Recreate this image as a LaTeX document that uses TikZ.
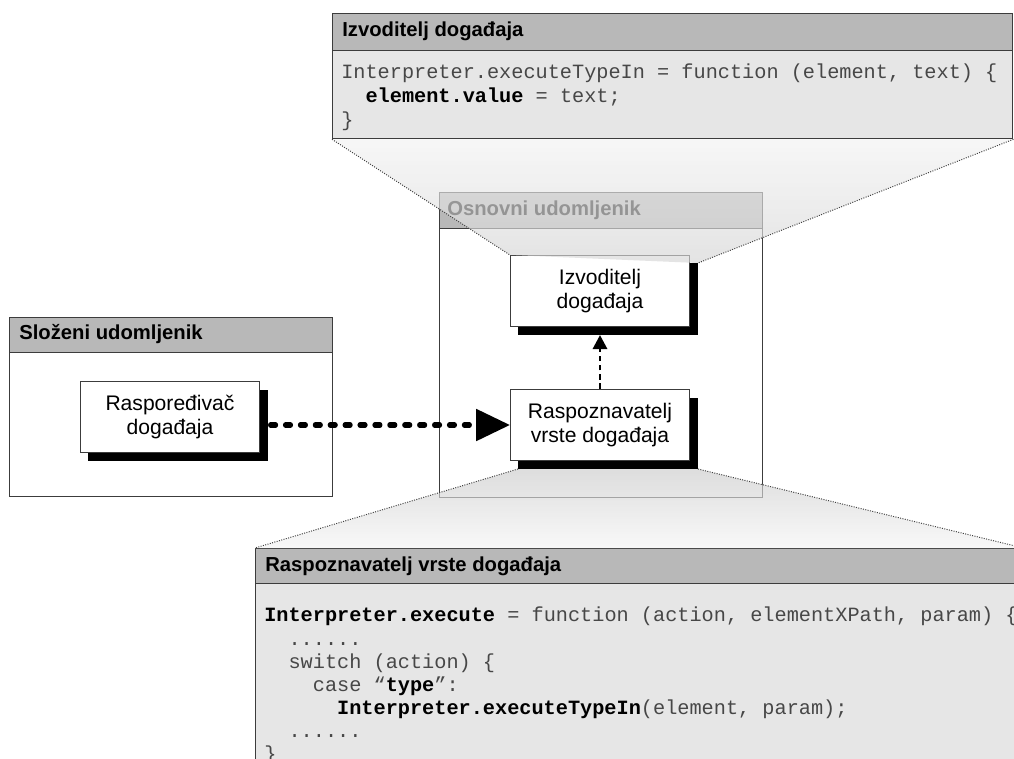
\documentclass[tikz,border=0pt]{standalone}
\usepackage{fontspec}
\setmainfont{Liberation Sans}
\setmonofont{Liberation Mono}
\usetikzlibrary{positioning, calc, arrows.meta, shadows}
\definecolor{hdrc}{RGB}{184,184,184}
\definecolor{codec}{RGB}{230,230,230}
\definecolor{edgec}{RGB}{60,60,60}
\newcommand{\kw}[1]{{\bfseries\color{black}#1}}

\begin{document}
\begin{tikzpicture}[x=0.025cm, y=-0.025cm,
  frame/.style={draw=edgec, line width=0.9pt, fill=white, anchor=north west, inner sep=0pt},
  codebox/.style={frame, fill=codec},
  hdrbar/.style={draw=edgec, line width=0.9pt, fill=hdrc, anchor=north west, inner sep=0pt},
  hdrtxt/.style={anchor=west, inner sep=0pt, font=\fontsize{14.4pt}{17pt}\selectfont\bfseries},
  codetxt/.style={anchor=north west, inner sep=0pt, align=left, text=black!72,
                  font=\fontsize{14.4pt}{17pt}\selectfont\ttfamily},
  block/.style={draw=edgec, line width=0.7pt, fill=white, minimum width=4.475cm, minimum height=1.775cm,
                align=center, inner sep=2pt, font=\fontsize{15pt}{17pt}\selectfont,
                drop shadow={shadow xshift=5.7pt, shadow yshift=-5.7pt, fill=black, opacity=1}},
  lens/.style={fill opacity=0.66},
  lensedge/.style={draw=black!75, line width=0.7pt, densely dotted},
]
\useasboundingbox (0,0) rectangle (1014,758);
\clip (0,0) rectangle (1014,758);

%% -- composite container (left) --
\node[frame, minimum width=8.075cm, minimum height=4.475cm] (slo) at (9,317) {};
\node[hdrbar, minimum width=8.075cm, minimum height=0.875cm] (slohdr) at (slo.north west) {};
\node[hdrtxt] (slolab) at (19,334) {Složeni udomljenik};

%% -- basic container (middle) --
\node[frame, minimum width=8.075cm, minimum height=7.625cm] (osn) at (439,192) {};
\node[hdrbar, minimum width=8.075cm, minimum height=0.9cm] (osnhdr) at (osn.north west) {};
\node[hdrtxt] (osnlab) at (447,210) {Osnovni udomljenik};

%% -- blocks --
\node[block] (rzn) at (600,425) {Raspoznavatelj\\vrste događaja};
\node[block, above=1.55cm of rzn] (izv) {Izvoditelj\\događaja};
\node[block] (rrd) at (170,417) {Raspoređivač\\događaja};

%% -- connectors --
\draw[line width=3.6pt, line cap=round, dash pattern=on 3.6pt off 7pt,
      -{Triangle[length=24pt, width=22pt, line cap=butt]}, shorten <=7.5pt]
  (rrd.east |- rzn.west) -- (rzn.west);
\draw[line width=2.1pt, dash pattern=on 4pt off 2.6pt,
      -{Triangle[length=10pt, width=10pt]}, shorten >=5.7pt]
  (rzn.north) -- (izv.south);

%% -- code boxes --
\node[codebox, minimum width=17cm, minimum height=3.125cm] (izvcode) at (332,13) {};
\node[hdrbar, minimum width=17cm, minimum height=0.925cm] (izvhdr) at (izvcode.north west) {};
\node[hdrtxt] (izvlab) at (342,31) {Izvoditelj događaja};
\node[codetxt] (izvsrc) at (341,64) {Interpreter.executeTypeIn = function (element, text) \{\\
\hspace*{1.2em}\kw{element.value} = text;\\
\}};

\node[codebox, minimum width=19.175cm, minimum height=5.55cm] (rzncode) at (255,548) {};
\node[hdrbar, minimum width=19.175cm, minimum height=0.875cm] (rznhdr) at (rzncode.north west) {};
\node[hdrtxt] (rznlab) at (265,566) {Raspoznavatelj vrste događaja};
\node[codetxt, font=\fontsize{14.4pt}{16.4pt}\selectfont\ttfamily] (rznsrc) at (264,607)
  {\kw{Interpreter.execute} = function (action, elementXPath, param) \{\\
\hspace*{1.2em}......\\
\hspace*{1.2em}switch (action) \{\\
\hspace*{2.4em}case “\kw{type}”:\\
\hspace*{3.6em}\kw{Interpreter.executeTypeIn}(element, param);\\
\hspace*{1.2em}......\\
\}};

%% -- zoom lenses (translucent, over the containers) --
\shade[lens, top color=black!5, bottom color=black!16]
  (izvcode.south west) -- (izvcode.south east) -- ($(izv.north east)+(8,8)$) -- (izv.north west) -- cycle;
\draw[lensedge] (izvcode.south west) -- (izv.north west);
\draw[lensedge] (izvcode.south east) -- ($(izv.north east)+(8,8)$);

\shade[lens, top color=black!20, bottom color=black!4]
  ($(rzn.south west)+(8,8)$) -- ($(rzn.south east)+(8,8)$) -- (rzncode.north east) -- (rzncode.north west) -- cycle;
\draw[lensedge] ($(rzn.south west)+(8,8)$) -- (rzncode.north west);
\draw[lensedge] ($(rzn.south east)+(8,8)$) -- (rzncode.north east);

\end{tikzpicture}
\end{document}
